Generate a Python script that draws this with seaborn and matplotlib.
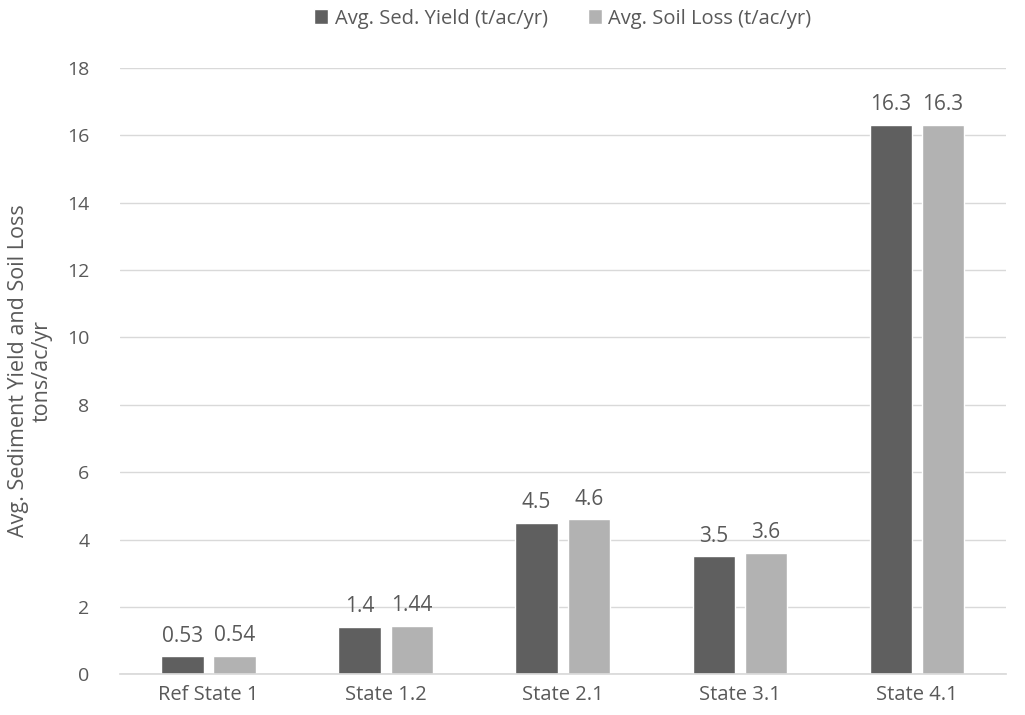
import pandas as pd
import seaborn as sns
import matplotlib.pyplot as plt

categorias = ['Ref State 1', 'State 1.2', 'State 2.1', 'State 3.1', 'State 4.1']
sed_yield = [0.53, 1.4, 4.5, 3.5, 16.3]
soil_loss = [0.54, 1.44, 4.6, 3.6, 16.3]
series = ['Avg. Sed. Yield (t/ac/yr)', 'Avg. Soil Loss (t/ac/yr)']
cores = ['#5f5f5f', '#b2b2b2']

df = pd.DataFrame({
    'estado': categorias * 2,
    'valor': sed_yield + soil_loss,
    'serie': [series[0]] * len(categorias) + [series[1]] * len(categorias),
})

sns.set_theme(style='white')
plt.rcParams['font.family'] = ['Open Sans', 'DejaVu Sans']
texto = '#595959'

fig = plt.figure(figsize=(10.25, 7.15), dpi=100)
ax = fig.add_axes([0.117, 0.057, 0.864, 0.848])

sns.barplot(data=df, x='estado', y='valor', hue='serie', palette=cores,
            width=0.59, gap=0.19, ax=ax, saturation=1)

for c in ax.containers:
    ax.bar_label(c, fmt='%g', padding=7, fontsize=15, color=texto)

ax.set_ylim(0, 18)
ax.set_yticks(range(0, 19, 2))
ax.yaxis.grid(True, color='#d9d9d9', linewidth=1)
ax.set_axisbelow(True)
for s in ['top', 'right', 'left']:
    ax.spines[s].set_visible(False)
ax.spines['bottom'].set_color('#d9d9d9')
ax.tick_params(axis='both', colors=texto, length=0)
ax.tick_params(axis='y', pad=22, labelsize=14)
ax.tick_params(axis='x', pad=8, labelsize=14.5)
ax.set_xlabel('')
ax.set_ylabel('Avg. Sediment Yield and Soil Loss\ntons/ac/yr', fontsize=15.5, color=texto,
              labelpad=10, multialignment='center')

ax.legend(loc='lower center', bbox_to_anchor=(0.5, 1.035), ncol=2, frameon=False,
          fontsize=14.5, labelcolor=texto, handlelength=0.7, handleheight=0.7,
          handletextpad=0.3, columnspacing=2.0)

plt.savefig('out.png', dpi=100)
